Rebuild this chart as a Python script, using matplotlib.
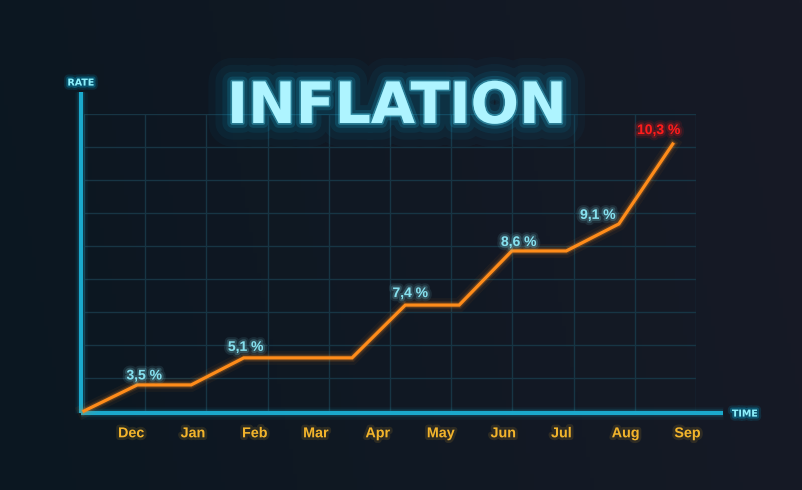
import numpy as np
import matplotlib
matplotlib.use("Agg")
import matplotlib.pyplot as plt
import matplotlib.patheffects as pe
from matplotlib.colors import to_rgb

# ---------------- data ----------------
months = ["Dec", "Jan", "Feb", "Mar", "Apr", "May", "Jun", "Jul", "Aug", "Sep"]
# knots of the line (time position in grid units) and rate level (grid units)
knot_x = [0.0, 0.87, 1.75, 2.61, 3.50, 4.38, 5.25, 6.13, 6.99, 7.88, 8.74, 9.62]
knot_y = [0.0, 0.79, 0.79, 1.61, 1.61, 1.61, 3.21, 3.21, 4.85, 4.85, 5.67, 8.09]
label_idx = [1, 3, 6, 8, 10, 11]
label_txt = ["3,5 %", "5,1 %", "7,4 %", "8,6 %", "9,1 %", "10,3 %"]
month_pos = [0.77, 1.78, 2.79, 3.79, 4.80, 5.83, 6.85, 7.80, 8.85, 9.86]

# ---------------- style ----------------
W, H = 803, 490
CYAN_AX = "#1ba9cc"
ORANGE = "#ff8c1a"
GOLD = "#f2b42c"
LABEL_C = "#86e0ee"
RED = "#ff1c1c"
GRID_C = "#173544"

fig = plt.figure(figsize=(W / 100, H / 100), dpi=100)

# background gradient
bg = fig.add_axes([0, 0, 1, 1])
bg.set_axis_off()
xx, yy = np.meshgrid(np.linspace(0, 1, 200), np.linspace(0, 1, 120))
c_left = np.array(to_rgb("#0b1721"))
c_right = np.array(to_rgb("#171a26"))
t = np.clip(xx * 0.9 + (1 - yy) * 0.1, 0, 1)[..., None]
img = c_left * (1 - t) + c_right * t
bg.imshow(img, extent=[0, 1, 0, 1], aspect="auto", origin="upper")
bg.set_xlim(0, 1)
bg.set_ylim(0, 1)


def glow(color, widths=(14, 9, 5), alphas=(0.05, 0.09, 0.18)):
    eff = [pe.Stroke(linewidth=w, foreground=color, alpha=a) for w, a in zip(widths, alphas)]
    eff.append(pe.Normal())
    return eff


# main axes = grid area
ax = fig.add_axes([84 / W, (H - 411) / H, 612 / W, 297 / H])
ax.set_facecolor("none")
ax.set_xlim(0, 10)
ax.set_ylim(0, 9)
for s in ax.spines.values():
    s.set_visible(False)
ax.set_xticks(np.arange(0, 11), minor=True)
ax.set_yticks(np.arange(0, 10), minor=True)
ax.set_yticks([])
ax.grid(which="minor", color=GRID_C, linewidth=1.0)
ax.grid(which="major", visible=False)
ax.tick_params(which="both", length=0)
ax.set_xticks(month_pos, labels=months)
ax.tick_params(axis="x", which="major", pad=11, labelsize=10.3, labelcolor=GOLD)
for lb in ax.get_xticklabels():
    lb.set_fontfamily("Liberation Sans")
    lb.set_fontweight("bold")
    lb.set_path_effects(glow(GOLD, widths=(4,), alphas=(0.12,)))

# axis lines (drawn as glowing lines)
ax.plot([-0.05, -0.05], [-0.06, 9.67], color=CYAN_AX, lw=3.0, clip_on=False,
        solid_capstyle="butt", zorder=4, path_effects=glow(CYAN_AX, (9, 6), (0.06, 0.12)))
ax.plot([-0.05, 10.44], [-0.06, -0.06], color=CYAN_AX, lw=3.0, clip_on=False,
        solid_capstyle="butt", zorder=4, path_effects=glow(CYAN_AX, (9, 6), (0.06, 0.12)))

# inflation line
ax.plot(knot_x, knot_y, color=ORANGE, lw=2.3, zorder=5, clip_on=False,
        solid_joinstyle="miter", path_effects=glow(ORANGE, (10, 6, 4), (0.05, 0.10, 0.2)))

# value labels (offsets in pixels -> points)
offs = [(7, 5.5), (2, 7), (5, 8), (7, 5), (-21, 5), (-14, 10)]
for i, txt, (dx, dy) in zip(label_idx, label_txt, offs):
    col = RED if txt == label_txt[-1] else LABEL_C
    ax.annotate(txt, xy=(knot_x[i], knot_y[i]), xytext=(dx * 0.72, dy * 0.72),
                textcoords="offset points", ha="center", va="baseline",
                fontsize=10, fontweight="bold", family="Liberation Sans", color=col,
                zorder=6, annotation_clip=False,
                path_effects=glow(col, (6, 3), (0.10, 0.2)))

# axis names
fig.text(81 / W, 1 - 85.5 / H, "RATE", ha="center", va="baseline", fontsize=6.8,
         fontweight="bold", family="DejaVu Sans", color="#8ef0fb",
         path_effects=glow("#00c8ff", (6, 3), (0.12, 0.25)))
fig.text(745 / W, 1 - 416.5 / H, "TIME", ha="center", va="baseline", fontsize=6.8,
         fontweight="bold", family="DejaVu Sans", color="#8ef0fb",
         path_effects=glow("#00c8ff", (6, 3), (0.12, 0.25)))

# neon title
fig.text(397 / W, 1 - 123 / H, "INFLATION", ha="center", va="baseline",
         fontsize=41, fontweight="bold", family="DejaVu Sans", color="#aef4ff",
         path_effects=[pe.Stroke(linewidth=34, foreground="#00b8ff", alpha=0.035),
                       pe.Stroke(linewidth=24, foreground="#00c0ff", alpha=0.05),
                       pe.Stroke(linewidth=14, foreground="#00c8ff", alpha=0.08),
                       pe.Stroke(linewidth=7, foreground="#20d4ff", alpha=0.14),
                       pe.Stroke(linewidth=2.5, foreground="#60e4ff", alpha=0.35),
                       pe.Normal()])

fig.savefig("out.png", dpi=100)
